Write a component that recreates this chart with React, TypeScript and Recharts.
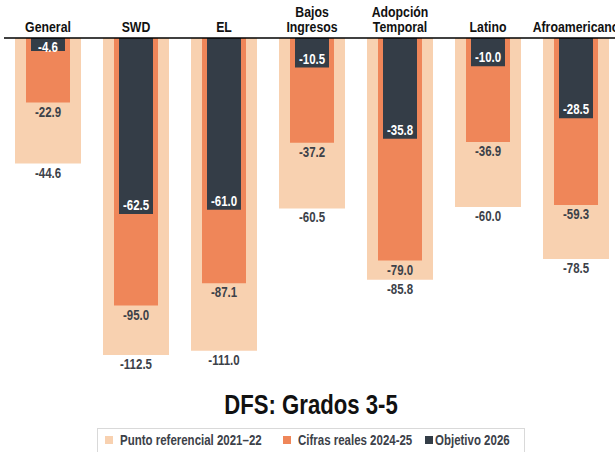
import React from "react";
import { BarChart, Bar, XAxis, YAxis, LabelList } from "recharts";

const categories = ["General", "SWD", "EL", "Bajos\nIngresos", "Adopción\nTemporal", "Latino", "Afroamericano"];
const baseline2122 = [-44.6, -112.5, -111.0, -60.5, -85.8, -60.0, -78.5];
const actual2425 = [-22.9, -95.0, -87.1, -37.2, -79.0, -36.9, -59.3];
const target2026 = [-4.6, -62.5, -61.0, -10.5, -35.8, -10.0, -28.5];

const seriesNames = ["Punto referencial 2021–22", "Cifras reales 2024-25", "Objetivo 2026"];
const COLORS = ["#F8D1B0", "#EF8659", "#343D47"];
const TEXT = "#3C4149";
const FONT = "'Liberation Sans', Arial, sans-serif";
const NARROW = 0.82; // squeeze Arial-like glyphs into an Arial Narrow look

const data = categories.map((name, i) => ({
  name,
  baseline: baseline2122[i],
  actual: actual2425[i],
  target: target2026[i],
}));

const CategoryTick = (props: any) => {
  const { x, payload } = props;
  const lines = String(payload.value).split("\n");
  return (
    <g transform={`translate(${x},0) scale(${NARROW},1)`}>
      <text textAnchor="middle" fontFamily={FONT} fontWeight="bold" fontSize={15} fill="#111">
        {lines.map((l, i) => (
          <tspan key={i} x={0} y={32 - (lines.length - 1 - i) * 15}>{l}</tspan>
        ))}
      </text>
    </g>
  );
};

const valueText = (cx: number, cy: number, value: any, fill: string) => (
  <g transform={`translate(${cx},${cy}) scale(${NARROW},1)`}>
    <text x={0} y={0} dy="0.36em" textAnchor="middle" fontFamily={FONT} fontWeight="bold" fontSize={14} fill={fill}>
      {Number(value).toFixed(1)}
    </text>
  </g>
);

// label under the end of a bar (negative bars grow downward)
const outsideLabel = (props: any) => {
  const { x, y, width, height, value } = props;
  const bottom = Math.max(Number(y), Number(y) + Number(height));
  return valueText(Number(x) + Number(width) / 2, bottom + 9, value, TEXT);
};

// white label inside the end of the dark bar
const insideLabel = (props: any) => {
  const { x, y, width, height, value } = props;
  const top = Math.min(Number(y), Number(y) + Number(height));
  const bottom = Math.max(Number(y), Number(y) + Number(height));
  return valueText(Number(x) + Number(width) / 2, Math.max(bottom - 9, top + 9), value, "#fff");
};

const legendX = [105, 283, 425];

export default function App() {
  return (
    <div style={{ position: "absolute", left: 0, top: 0, width: 615, height: 452, overflow: "hidden", background: "#fff" }}>
      <BarChart width={624} height={452} data={data} margin={{ top: 0, right: 4, left: 4, bottom: 76 }}>
        <XAxis xAxisId="a" dataKey="name" orientation="top" height={38} tickLine={false}
          axisLine={{ stroke: "#000", strokeWidth: 1.5 }} tick={<CategoryTick />} interval={0} />
        <XAxis xAxisId="b" dataKey="name" hide />
        <XAxis xAxisId="c" dataKey="name" hide />
        <YAxis type="number" domain={[-120, 0]} hide />
        <Bar xAxisId="a" dataKey="baseline" fill={COLORS[0]} barSize={66} isAnimationActive={false}>
          <LabelList dataKey="baseline" content={outsideLabel} />
        </Bar>
        <Bar xAxisId="b" dataKey="actual" fill={COLORS[1]} barSize={44} isAnimationActive={false}>
          <LabelList dataKey="actual" content={outsideLabel} />
        </Bar>
        <Bar xAxisId="c" dataKey="target" fill={COLORS[2]} barSize={34} isAnimationActive={false}>
          <LabelList dataKey="target" content={insideLabel} />
        </Bar>
      </BarChart>
      <div style={{ position: "absolute", left: 0, width: 622, top: 392, textAlign: "center", fontFamily: FONT, fontWeight: "bold", fontSize: 27, lineHeight: "27px", color: "#111", transform: `scaleX(${NARROW})`, transformOrigin: "311px 0" }}>
        DFS: Grados 3-5
      </div>
      <div style={{ position: "absolute", left: 97, top: 428, width: 428, height: 30, border: "1px solid #D9D9D9", boxSizing: "border-box" }} />
      {seriesNames.map((n, i) => (
        <React.Fragment key={n}>
          <span style={{ position: "absolute", left: legendX[i], top: 436, width: 8, height: 8, background: COLORS[i] }} />
          <span style={{ position: "absolute", left: legendX[i] + (i === 2 ? 10 : 15), top: 432, whiteSpace: "nowrap", fontFamily: FONT, fontWeight: "bold", fontSize: 14, lineHeight: "16px", color: TEXT, transform: `scaleX(${NARROW})`, transformOrigin: "0 0" }}>
            {n}
          </span>
        </React.Fragment>
      ))}
    </div>
  );
}
